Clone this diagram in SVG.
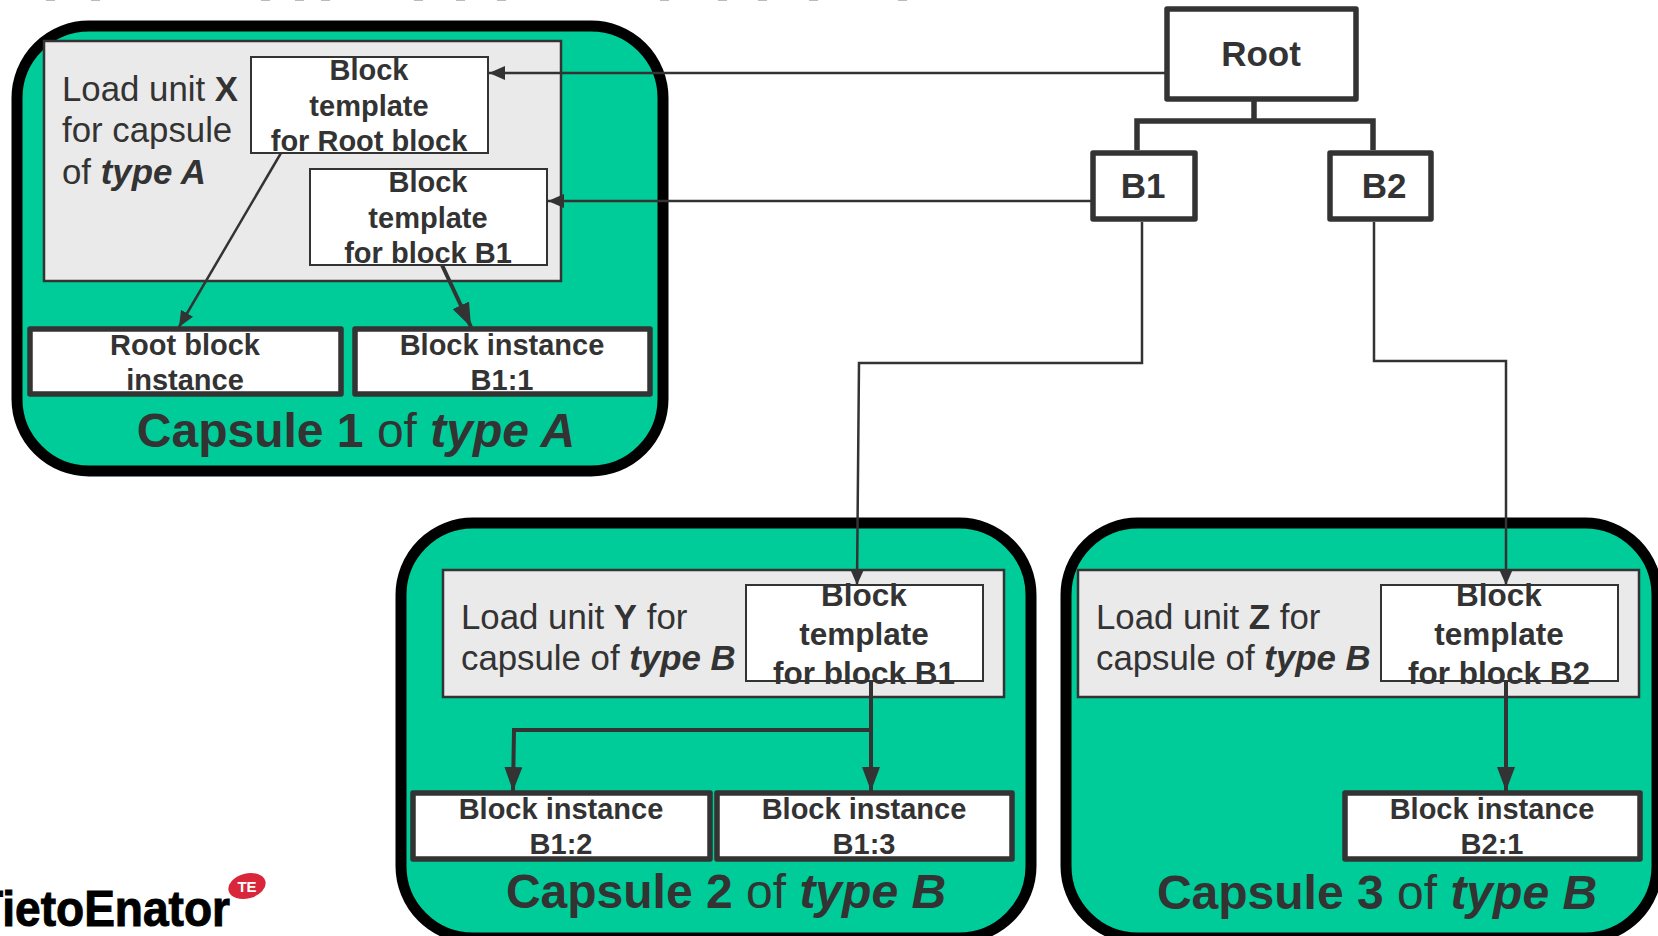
<svg xmlns="http://www.w3.org/2000/svg" width="1658" height="936" viewBox="0 0 1658 936">
<style>
text{font-family:"Liberation Sans",Arial,sans-serif;fill:#333;}
.cap{fill:#00CC99;stroke:#000;stroke-width:11;}
.lu{fill:#EAEAEA;stroke:#333;stroke-width:2.5;}
.tpl{fill:#fff;stroke:#333;stroke-width:2;}
.inst{fill:#fff;stroke:#333;stroke-width:5.5;stroke-linejoin:round;}
.box{fill:#fff;stroke:#333;stroke-width:5.5;stroke-linejoin:round;}
.title{font-size:48px;font-weight:bold;text-anchor:middle;}
.load{font-size:34.8px;}
.t1{font-size:29px;font-weight:bold;text-anchor:middle;}
.t2{font-size:31.5px;font-weight:bold;text-anchor:middle;}
.big{font-size:35px;font-weight:bold;text-anchor:middle;}
.r{font-weight:normal;}
.b{font-weight:bold;}
.bi{font-weight:bold;font-style:italic;}
.thin{fill:none;stroke:#333;stroke-width:2.5;}
.thick{fill:none;stroke:#333;stroke-width:4;}
.tree{fill:none;stroke:#333;stroke-width:5.5;}
</style>
<defs>
<marker id="s" markerUnits="userSpaceOnUse" markerWidth="17" markerHeight="14" refX="16" refY="7" orient="auto"><path d="M0,0L16,7L0,14z" fill="#333"/></marker>
<marker id="l" markerUnits="userSpaceOnUse" markerWidth="25" markerHeight="18" refX="24" refY="9" orient="auto"><path d="M0,0L24,9L0,18z" fill="#333"/></marker>
</defs>
<g id="top-remnants" fill="#bbb"><rect x="46" y="0" width="9" height="1"/><rect x="91" y="0" width="9" height="1"/><rect x="261" y="0" width="9" height="1"/><rect x="295" y="0" width="9" height="1"/><rect x="321" y="0" width="9" height="1"/><rect x="414" y="0" width="9" height="1"/><rect x="456" y="0" width="9" height="1"/><rect x="497" y="0" width="9" height="1"/><rect x="660" y="0" width="9" height="1"/><rect x="718" y="0" width="9" height="1"/><rect x="758" y="0" width="9" height="1"/><rect x="809" y="0" width="9" height="1"/><rect x="898" y="0" width="9" height="1"/></g>
<g id="capsule1">
<rect class="cap" x="17" y="26" width="646" height="445" rx="72"/>
<rect class="lu" x="44" y="41" width="517" height="240"/>
<text class="load" x="62" y="101">Load unit <tspan class="b">X</tspan></text>
<text class="load" x="62" y="142">for capsule</text>
<text class="load" x="62" y="184">of <tspan class="bi">type A</tspan></text>
<text class="title" x="356" y="447">Capsule 1 <tspan class="r">of</tspan> <tspan class="bi">type A</tspan></text>
</g>
<g id="tpl-root"><rect class="tpl" x="251" y="57" width="237" height="96"/><text class="t1" x="369" y="80">Block</text><text class="t1" x="369" y="116">template</text><text class="t1" x="369" y="151">for Root block</text></g>
<g id="tpl-b1"><rect class="tpl" x="310" y="169" width="237" height="96"/><text class="t1" x="428" y="192">Block</text><text class="t1" x="428" y="228">template</text><text class="t1" x="428" y="263">for block B1</text></g>
<g id="inst-root"><rect class="inst" x="30" y="329" width="311" height="65"/><text class="t1" x="185" y="355">Root block</text><text class="t1" x="185" y="390">instance</text></g>
<g id="inst-b11"><rect class="inst" x="355" y="329" width="295" height="65"/><text class="t1" x="502" y="355">Block instance</text><text class="t1" x="502" y="390">B1:1</text></g>
<g id="capsule2">
<rect class="cap" x="401" y="523" width="630" height="415" rx="72"/>
<rect class="lu" x="443" y="570" width="561" height="127"/>
<text class="load" x="461" y="629">Load unit <tspan class="b">Y</tspan> for</text>
<text class="load" x="461" y="670">capsule of <tspan class="bi">type B</tspan></text>
<text class="title" x="726" y="908">Capsule 2 <tspan class="r">of</tspan> <tspan class="bi">type B</tspan></text>
</g>
<g id="tpl-y"><rect class="tpl" x="746" y="585" width="237" height="96"/><text class="t2" x="864" y="606">Block</text><text class="t2" x="864" y="645">template</text><text class="t2" x="864" y="684">for block B1</text></g>
<g id="inst-b12"><rect class="inst" x="413" y="793" width="297" height="66"/><text class="t1" x="561" y="819">Block instance</text><text class="t1" x="561" y="854">B1:2</text></g>
<g id="inst-b13"><rect class="inst" x="717" y="793" width="295" height="66"/><text class="t1" x="864" y="819">Block instance</text><text class="t1" x="864" y="854">B1:3</text></g>
<g id="capsule3">
<rect class="cap" x="1066" y="523" width="591" height="415" rx="72"/>
<rect class="lu" x="1078" y="570" width="561" height="127"/>
<text class="load" x="1096" y="629">Load unit <tspan class="b">Z</tspan> for</text>
<text class="load" x="1096" y="670">capsule of <tspan class="bi">type B</tspan></text>
<text class="title" x="1377" y="909">Capsule 3 <tspan class="r">of</tspan> <tspan class="bi">type B</tspan></text>
</g>
<g id="tpl-z"><rect class="tpl" x="1381" y="585" width="237" height="96"/><text class="t2" x="1499" y="606">Block</text><text class="t2" x="1499" y="645">template</text><text class="t2" x="1499" y="684">for block B2</text></g>
<g id="inst-b21"><rect class="inst" x="1345" y="793" width="295" height="66"/><text class="t1" x="1492" y="819">Block instance</text><text class="t1" x="1492" y="854">B2:1</text></g>
<g id="root"><rect class="box" x="1167" y="9" width="189" height="90"/><text class="big" x="1261" y="66">Root</text></g>
<g id="b1"><rect class="box" x="1093" y="153" width="102" height="66"/><text class="big" x="1143" y="198">B1</text></g>
<g id="b2"><rect class="box" x="1330" y="153" width="101" height="66"/><text class="big" x="1384" y="198">B2</text></g>
<g id="connectors">
<path class="tree" d="M1254,101V121M1137,150V121H1373V150"/>
<path class="thin" marker-end="url(#s)" d="M1165,73H489"/>
<path class="thin" marker-end="url(#s)" d="M1091,201H548"/>
<path class="thin" marker-end="url(#s)" d="M1142,222V363H859L857,585"/>
<path class="thin" marker-end="url(#s)" d="M1374,222V361H1506V585"/>
<path class="thin" marker-end="url(#s)" d="M281,153L179,327"/>
<path class="thick" marker-end="url(#l)" d="M442,265L471,327"/>
<path class="thick" marker-end="url(#l)" d="M871,681V791"/>
<path class="thick" marker-end="url(#l)" d="M871,730H514L513,791"/>
<path class="thick" marker-end="url(#l)" d="M1506,681V791"/>
</g>
<g id="logo">
<text x="-25" y="926" font-size="50" font-weight="bold" textLength="255" lengthAdjust="spacingAndGlyphs" style="fill:#000;stroke:#000;stroke-width:1;">TietoEnator</text>
<ellipse cx="247" cy="886" rx="19" ry="12.5" fill="#D9263A" transform="rotate(-15 247 886)"/>
<text x="247" y="892" font-size="15" font-weight="bold" text-anchor="middle" style="fill:#fff;">TE</text>
</g>
</svg>
